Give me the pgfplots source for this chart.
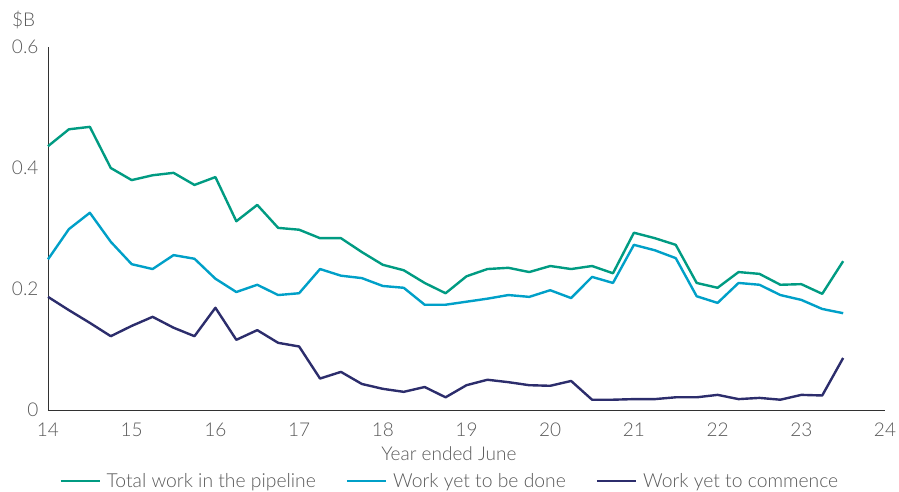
\documentclass[border=0pt]{standalone}
\usepackage{pgfplots}
\pgfplotsset{compat=1.18}
\usepackage{pgfplotstable}
\usepackage{fontspec}
\setmainfont{Lato}[UprightFont={* Light}]

\definecolor{totalc}{RGB}{0,155,130}
\definecolor{donec}{RGB}{0,160,200}
\definecolor{commc}{RGB}{44,45,108}
\definecolor{txt}{RGB}{89,89,89}
\definecolor{axc}{RGB}{50,50,50}

% quarterly, year ended June; $B
\pgfplotstableread{
x     total  done   comm
14.00 0.436  0.249  0.187
14.25 0.464  0.299  0.165
14.50 0.468  0.326  0.144
14.75 0.400  0.278  0.122
15.00 0.380  0.241  0.139
15.25 0.388  0.233  0.154
15.50 0.392  0.256  0.136
15.75 0.372  0.250  0.122
16.00 0.385  0.217  0.169
16.25 0.312  0.195  0.116
16.50 0.339  0.207  0.132
16.75 0.301  0.190  0.111
17.00 0.298  0.193  0.105
17.25 0.284  0.233  0.052
17.50 0.284  0.222  0.063
17.75 0.261  0.218  0.043
18.00 0.240  0.205  0.035
18.25 0.231  0.202  0.030
18.50 0.210  0.174  0.038
18.75 0.193  0.174  0.021
19.00 0.221  0.179  0.041
19.25 0.233  0.184  0.050
19.50 0.235  0.190  0.046
19.75 0.228  0.187  0.041
20.00 0.238  0.198  0.040
20.25 0.233  0.185  0.048
20.50 0.238  0.220  0.017
20.75 0.226  0.210  0.017
21.00 0.293  0.273  0.018
21.25 0.284  0.264  0.018
21.50 0.273  0.251  0.021
21.75 0.210  0.188  0.021
22.00 0.202  0.177  0.025
22.25 0.228  0.210  0.018
22.50 0.225  0.207  0.020
22.75 0.207  0.190  0.017
23.00 0.208  0.182  0.025
23.25 0.192  0.167  0.024
23.50 0.246  0.160  0.086
}\pipeline

\begin{document}
\begin{tikzpicture}[font=\fontsize{19}{22}\selectfont, text=txt]
\useasboundingbox (-48pt,-82pt) rectangle (851pt,410pt);
\begin{axis}[
    at={(0pt,0pt)}, anchor=south west,
    scale only axis, width=837pt, height=363pt,
    xmin=14, xmax=24, ymin=0, ymax=0.6,
    axis x line*=bottom, axis y line*=left,
    axis line style={draw=axc, line width=0.8pt},
    xtick={14,15,...,24}, ytick={0,0.2,0.4,0.6},
    major tick length=0pt,
    /pgf/number format/assume math mode=true,
    xticklabel style={yshift=-9pt, text=txt},
    yticklabel style={xshift=-6pt, text=txt},
    xlabel={Year ended June},
    xlabel style={at={(axis description cs:0.479,0)}, anchor=north, yshift=-33pt, text=txt},
    clip=false,
    legend columns=3,
    legend style={at={(0.480,-0.196)}, anchor=center, draw=none, fill=none,
        text=txt, font=\fontsize{19.3}{22}\selectfont,
        /tikz/every even column/.append style={column sep=28pt}},
    legend image code/.code={\draw[#1] (0pt,0pt) -- (39pt,0pt); \path (43pt,0pt);},
    every axis plot/.append style={line width=2.4pt, line join=round, mark=none},
]
\addplot[totalc] table[x=x, y=total] {\pipeline};
\addlegendentry{Total work in the pipeline}
\addplot[donec] table[x=x, y=done] {\pipeline};
\addlegendentry{Work yet to be done}
\addplot[commc] table[x=x, y=comm] {\pipeline};
\addlegendentry{Work yet to commence}
\node[anchor=base west, inner sep=0pt, xshift=-36pt, yshift=20pt, text=txt]
    at (axis description cs:0,1) {\$B};
\end{axis}
\end{tikzpicture}
\end{document}
